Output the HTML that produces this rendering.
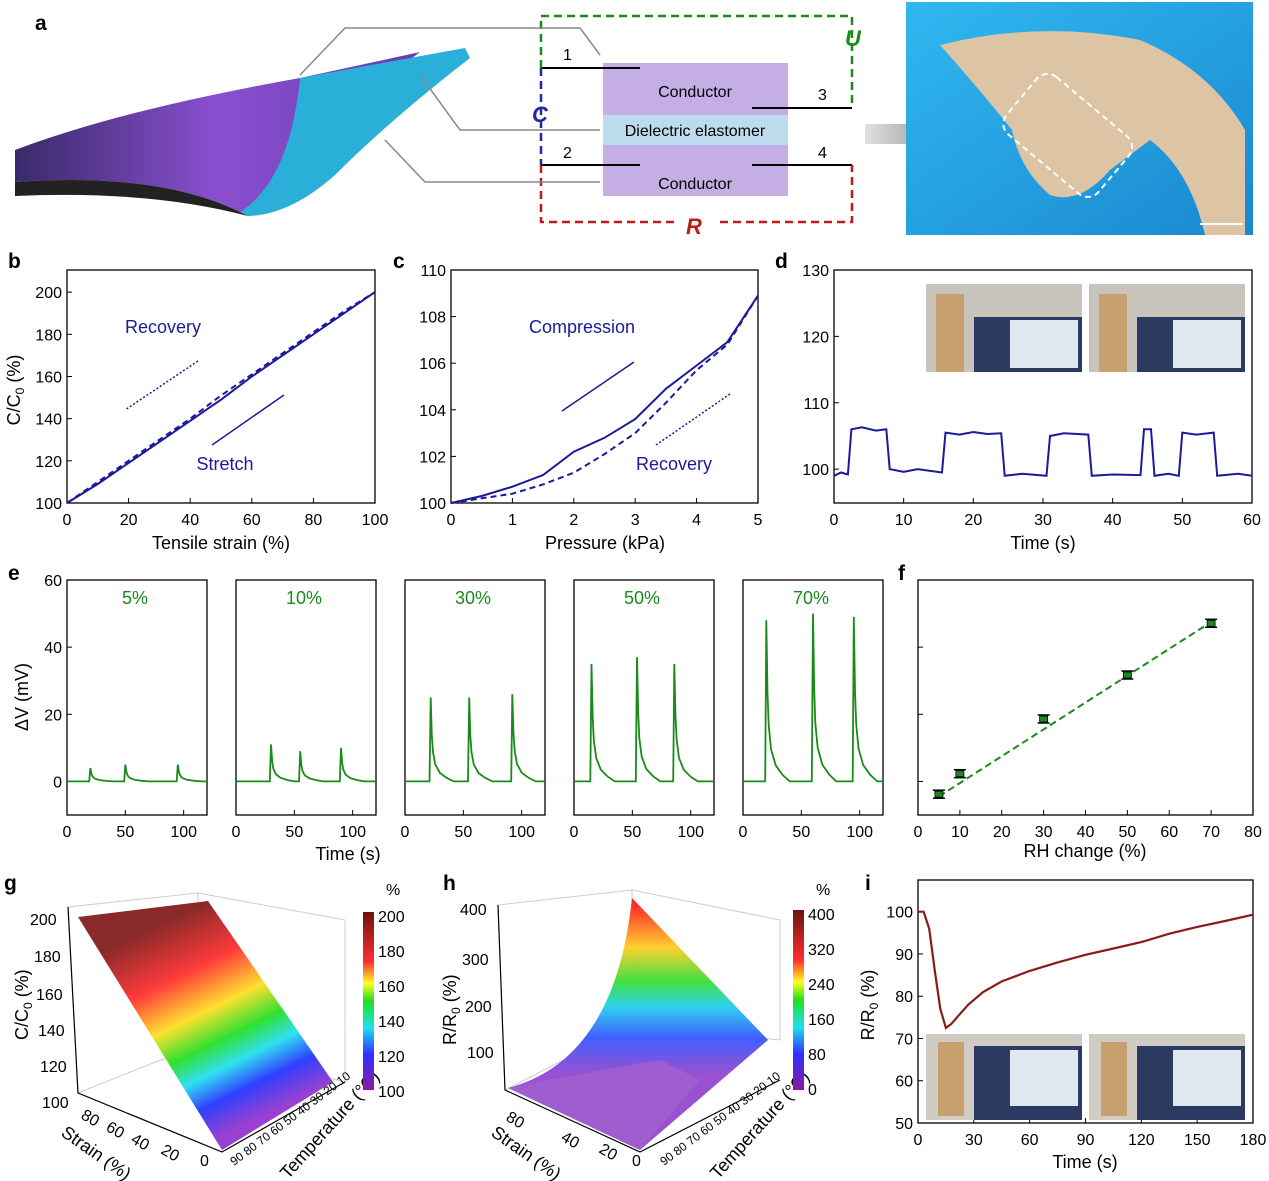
<!DOCTYPE html>
<html><head><meta charset="utf-8"><style>
body{margin:0;background:#fff}
svg{display:block;font-family:"Liberation Sans",sans-serif}
.t{font-size:16px;fill:#000}
.ti{font-size:18px;fill:#000}
.L{font-size:21px;font-weight:bold;fill:#000}
</style></head><body>
<svg id="s" width="1269" height="1181" viewBox="0 0 1269 1181">
<defs>
<linearGradient id="fab" x1="0" y1="0" x2="1" y2="0"><stop offset="0" stop-color="#3a2a6a"/><stop offset="0.5" stop-color="#8a4fd0"/><stop offset="1" stop-color="#6a3cb0"/></linearGradient>
<linearGradient id="gsurf" gradientUnits="userSpaceOnUse" x1="160" y1="925" x2="255" y2="1120"><stop offset="0" stop-color="#8b2a2a"/><stop offset="0.25" stop-color="#ff3a3a"/><stop offset="0.45" stop-color="#ffe030"/><stop offset="0.6" stop-color="#30e030"/><stop offset="0.72" stop-color="#30e0f0"/><stop offset="0.85" stop-color="#3040ff"/><stop offset="1" stop-color="#9a40d0"/></linearGradient>
<linearGradient id="hsurf" gradientUnits="userSpaceOnUse" x1="640" y1="905" x2="640" y2="1075"><stop offset="0" stop-color="#ff2a2a"/><stop offset="0.25" stop-color="#ffd030"/><stop offset="0.45" stop-color="#40e040"/><stop offset="0.6" stop-color="#30d0f0"/><stop offset="0.78" stop-color="#4060ff"/><stop offset="1" stop-color="#9a50d0"/></linearGradient>
<linearGradient id="cbar" x1="0" y1="1" x2="0" y2="0"><stop offset="0" stop-color="#8a1aa0"/><stop offset="0.2" stop-color="#3030ff"/><stop offset="0.35" stop-color="#20e0f0"/><stop offset="0.5" stop-color="#20e020"/><stop offset="0.6" stop-color="#ffff20"/><stop offset="0.72" stop-color="#ff3030"/><stop offset="1" stop-color="#701010"/></linearGradient>
<linearGradient id="arr" x1="0" y1="0" x2="1" y2="0"><stop offset="0" stop-color="#e0e0e0"/><stop offset="1" stop-color="#707070"/></linearGradient>
<linearGradient id="bg" x1="0" y1="0" x2="1" y2="1"><stop offset="0" stop-color="#30b8f0"/><stop offset="1" stop-color="#1a88d0"/></linearGradient>
</defs>

<!-- Panel a -->
<text class="L" x="35" y="30">a</text>
<g>
<path d="M15,150 Q120,110 300,78 L420,52 Q330,120 300,180 Q280,212 240,212 Q160,172 15,182Z" fill="url(#fab)"/>
<path d="M300,78 L465,48 L470,58 Q390,120 335,175 Q290,215 248,216 L240,212 Q290,180 300,78Z" fill="#2ab0d8"/>
<path d="M15,182 Q160,172 240,212 L248,216 Q150,190 15,196Z" fill="#222"/>
</g>
<g>
<rect x="603" y="63" width="185" height="52" fill="#c4aee4"/>
<rect x="603" y="115" width="185" height="30" fill="#bcdcee"/>
<rect x="603" y="145" width="185" height="51" fill="#c4aee4"/>
<text class="t" x="695" y="97" text-anchor="middle">Conductor</text>
<text class="t" x="695" y="136" text-anchor="middle">Dielectric elastomer</text>
<text class="t" x="695" y="189" text-anchor="middle">Conductor</text>
<g stroke="#000" stroke-width="2"><line x1="541" y1="68" x2="640" y2="68"/><line x1="752" y1="108" x2="852" y2="108"/><line x1="541" y1="165" x2="640" y2="165"/><line x1="752" y1="165" x2="852" y2="165"/></g>
<text class="t" x="563" y="60">1</text><text class="t" x="818" y="100">3</text><text class="t" x="563" y="158">2</text><text class="t" x="818" y="158">4</text>
<path d="M541,68 V16 H852 V108" fill="none" stroke="#1a8a1a" stroke-width="2.5" stroke-dasharray="8,5"/>
<path d="M541,68 V165" fill="none" stroke="#1a2aa0" stroke-width="2.5" stroke-dasharray="8,5"/>
<path d="M541,165 V222 H675 M720,222 H852 V165" fill="none" stroke="#c01a1a" stroke-width="2.5" stroke-dasharray="8,5"/>
<text x="845" y="46" font-size="22" font-weight="bold" font-style="italic" fill="#1a8a1a">U</text>
<text x="532" y="122" font-size="22" font-weight="bold" font-style="italic" fill="#1a2aa0">C</text>
<text x="686" y="234" font-size="22" font-weight="bold" font-style="italic" fill="#c01a1a">R</text>
<g stroke="#888" stroke-width="1.5" fill="none"><path d="M300,75 L345,28 H580 L600,55"/><path d="M420,75 L460,130 H600"/><path d="M385,140 L425,182 H600"/></g>
<path d="M865,124 H940 V112 L980,134 L940,156 V144 H865Z" fill="url(#arr)"/>
</g>
<g>
<rect x="906" y="2" width="347" height="233" fill="url(#bg)"/>
<path d="M940,45 Q1040,20 1140,40 Q1210,70 1245,130 L1245,235 L1205,235 Q1190,170 1150,140 L1110,170 Q1080,205 1050,195 Q1020,170 1012,130 Q980,90 940,45Z" fill="#dcc4a4"/>
<rect x="1008" y="98" width="120" height="75" rx="14" transform="rotate(40 1068 135)" fill="none" stroke="#fff" stroke-width="2" stroke-dasharray="6,4"/>
<line x1="1200" y1="224" x2="1243" y2="224" stroke="#fff" stroke-width="2"/>
</g>

<g id="charts"></g>

<!-- Panel g 3D -->
<text class="L" x="4" y="890">g</text>
<g stroke="#ccc" stroke-width="1" fill="none">
<path d="M68,907 L198,893 L198,1045 L78,1093Z M198,893 L345,920 L345,1082 L198,1045Z"/>
<path d="M78,1093 L222,1152 L345,1082"/>
</g>
<polygon points="78,917 208,901 333,1082 222,1150" fill="url(#gsurf)"/>
<g stroke="#000" stroke-width="1.2" fill="none"><path d="M68,907 L78,1093 L222,1152 L345,1082"/></g>
<g class="t" font-size="15">
<text x="30" y="925">200</text><text x="34" y="962">180</text><text x="36" y="1000">160</text><text x="38" y="1036">140</text><text x="40" y="1072">120</text><text x="42" y="1108">100</text>
<text x="80" y="1118" transform="rotate(30 80 1118)">80</text><text x="105" y="1130" transform="rotate(30 105 1130)">60</text><text x="130" y="1142" transform="rotate(30 130 1142)">40</text><text x="160" y="1153" transform="rotate(30 160 1153)">20</text><text x="200" y="1166">0</text>
</g>
<text x="234" y="1166" font-size="12" transform="rotate(-37 234 1166)">90 80 70 60 50 40 30 20 10</text>
<text class="ti" x="28" y="1040" transform="rotate(-90 28 1040)">C/C<tspan font-size="12" dy="4">0</tspan><tspan dy="-4"> (%)</tspan></text>
<text class="ti" x="60" y="1135" transform="rotate(35 60 1135)">Strain (%)</text>
<text class="ti" x="288" y="1180" transform="rotate(-48 288 1180)">Temperature (°C)</text>
<rect x="363" y="912" width="11" height="178" fill="url(#cbar)"/>
<g class="t" font-size="15"><text x="386" y="895">%</text><text x="378" y="922">200</text><text x="378" y="957">180</text><text x="378" y="992">160</text><text x="378" y="1027">140</text><text x="378" y="1062">120</text><text x="378" y="1097">100</text></g>

<!-- Panel h 3D -->
<text class="L" x="443" y="890">h</text>
<g stroke="#ccc" stroke-width="1" fill="none">
<path d="M498,905 L632,890 L632,1025 L505,1090Z M632,890 L780,920 L780,1040 L632,1025Z"/>
</g>
<path d="M508,1088 Q615,1060 632,898 L768,1040 L640,1150 Z" fill="url(#hsurf)"/>
<path d="M508,1088 Q600,1070 660,1060 L700,1080 L640,1150 Z" fill="#a060d0" opacity="0.85"/>
<g stroke="#000" stroke-width="1.2" fill="none"><path d="M498,905 L505,1090 L640,1152 L780,1080"/></g>
<g class="t" font-size="15"><text x="460" y="915">400</text><text x="462" y="965">300</text><text x="465" y="1012">200</text><text x="467" y="1058">100</text>
<text x="505" y="1120" transform="rotate(30 505 1120)">80</text><text x="560" y="1140" transform="rotate(30 560 1140)">40</text><text x="598" y="1152" transform="rotate(30 598 1152)">20</text><text x="632" y="1166">0</text></g>
<text x="664" y="1166" font-size="12" transform="rotate(-37 664 1166)">90 80 70 60 50 40 30 20 10</text>
<text class="ti" x="456" y="1045" transform="rotate(-90 456 1045)">R/R<tspan font-size="12" dy="4">0</tspan><tspan dy="-4"> (%)</tspan></text>
<text class="ti" x="490" y="1135" transform="rotate(35 490 1135)">Strain (%)</text>
<text class="ti" x="718" y="1180" transform="rotate(-48 718 1180)">Temperature (°C)</text>
<rect x="793" y="910" width="11" height="180" fill="url(#cbar)"/>
<g class="t" font-size="15"><text x="816" y="895">%</text><text x="808" y="920">400</text><text x="808" y="955">320</text><text x="808" y="990">240</text><text x="808" y="1025">160</text><text x="808" y="1060">80</text><text x="808" y="1095">0</text></g>
</svg>
<script>
// ---------- data ----------
const bStrain=[0,10,20,30,40,50,60,70,80,90,100];
const bStretch=[100,109,119,129,139,149,160,170,180,190,200];
const bRecovery=[100,110,120,130,140,151,161,171,181,191,200];
const cPressure=[0,0.5,1,1.5,2,2.5,3,3.5,4,4.5,5];
const cCompression=[100,100.3,100.7,101.2,102.2,102.8,103.6,104.9,105.9,106.9,108.9];
const cRecovery=[100,100.2,100.4,100.8,101.3,102.1,103.0,104.3,105.7,106.8,108.9];
const dTime=[0,1,2,2.5,4,6,7.5,8,10,12,15.5,16,18,20,22,24,24.5,27,30.5,31,33,36.5,37,40,44,44.5,45.5,46,48,49.5,50,52,54.5,55,58,60];
const dCap=[99,99.5,99.2,106,106.3,105.8,106,100,99.6,100,99.5,105.5,105.2,105.6,105.3,105.4,99,99.3,99,105,105.4,105.2,99,99.2,99.1,106,106,99,99.3,99,105.5,105.2,105.5,99,99.3,99];
const eLabels=['5%','10%','30%','50%','70%'];
const ePeakTimes=[[20,50,95],[30,55,90],[22,55,92],[15,54,86],[20,60,95]];
const ePeakHeights=[[4,5,5],[11,9,10],[25,25,26],[35,37,35],[48,50,49]];
const eShapeDt=[-1,0,1,2,4,8,14,20];
const eShapeFrac=[0,1,0.55,0.35,0.2,0.1,0.04,0];
const fRH=[5,10,30,50,70];
const fV=[-3.8,2.3,18.6,31.7,47.1];
const fFitX=[5,70];
const fFitY=[-4.5,47.5];
const iTime=[0,3,6,9,12,15,18,22,27,35,45,60,75,90,105,120,135,150,165,180];
const iR=[100,100,96,86,77,72.5,73.5,75.5,78,81,83.5,86,88,89.8,91.3,92.8,94.8,96.4,97.8,99.3];

const NS='http://www.w3.org/2000/svg';
const root=document.getElementById('charts');
function mk(tag,at,parent){const e=document.createElementNS(NS,tag);for(const k in at)e.setAttribute(k,at[k]);(parent||root).appendChild(e);return e;}
function txt(s,x,y,cls,anchor,parent){const e=mk('text',{x:x,y:y,'class':cls,'text-anchor':anchor||'middle'},parent);e.textContent=s;return e;}
function axes(x0,x1,y0,y1,xd,yd){return {X:v=>x0+(v-xd[0])/(xd[1]-xd[0])*(x1-x0),Y:v=>y1-(v-yd[0])/(yd[1]-yd[0])*(y1-y0)};}
function frame(x0,x1,y0,y1,name){const r=mk('rect',{x:x0,y:y0,width:x1-x0,height:y1-y0,fill:'none',stroke:'#000','stroke-width':1.3});}
function xt(a,vals,y1,show){vals.forEach(v=>{mk('line',{x1:a.X(v),x2:a.X(v),y1:y1,y2:y1-5,stroke:'#000'});if(show)txt(String(v),a.X(v),y1+22,'t');});}
function yt(a,vals,x0,show){vals.forEach(v=>{mk('line',{x1:x0,x2:x0+5,y1:a.Y(v),y2:a.Y(v),stroke:'#000'});if(show)txt(String(v),x0-5,a.Y(v)+6,'t','end');});}
function line(a,xs,ys,col,dash,w,name){const p=mk('path',{d:xs.map((x,i)=>(i?'L':'M')+a.X(x).toFixed(1)+','+a.Y(ys[i]).toFixed(1)).join(''),fill:'none',stroke:col,'stroke-width':w||2,'stroke-dasharray':dash||'none'});return p;}
function ctxt(s,x,y,col){const e=txt(s,x,y,'ti');e.style.fill=col;return e;}
const blue='#1a1a9a',green='#1a8a1a';

// ---------- b ----------
txt('b',8,268,'L','start');
let a=axes(67,375,270,503,[0,100],[100,210.5]);frame(67,375,270,503,'plot-b');
xt(a,[0,20,40,60,80,100],503,true);yt(a,[100,120,140,160,180,200],67,true);
line(a,bStrain,bRecovery,blue,'6,4',2,'recovery-curve');line(a,bStrain,bStretch,blue,'',2,'stretch-curve');
txt('Tensile strain (%)',221,549,'ti');
let tt=txt('',20,390,'ti');tt.setAttribute('transform','rotate(-90 20 390)');tt.innerHTML='C/C<tspan font-size="12" dy="4">0</tspan><tspan dy="-4"> (%)</tspan>';
ctxt('Recovery',163,333,blue);ctxt('Stretch',225,470,blue);
mk('line',{x1:198,y1:361,x2:125,y2:410,stroke:blue,'stroke-width':1.5,'stroke-dasharray':'2,2'});
mk('line',{x1:212,y1:445,x2:284,y2:395,stroke:blue,'stroke-width':1.5});

// ---------- c ----------
txt('c',393,268,'L','start');
a=axes(451,758,270,503,[0,5],[100,110]);frame(451,758,270,503,'plot-c');
xt(a,[0,1,2,3,4,5],503,true);yt(a,[100,102,104,106,108,110],451,true);
line(a,cPressure,cRecovery,blue,'6,4',2,'recovery-curve-c');line(a,cPressure,cCompression,blue,'',2,'compression-curve');
txt('Pressure (kPa)',605,549,'ti');
ctxt('Compression',582,333,blue);ctxt('Recovery',674,470,blue);
mk('line',{x1:562,y1:411,x2:634,y2:362,stroke:blue,'stroke-width':1.5});
mk('line',{x1:730,y1:394,x2:656,y2:445,stroke:blue,'stroke-width':1.5,'stroke-dasharray':'2,2'});

// ---------- d ----------
txt('d',775,268,'L','start');
a=axes(834,1252,270,503,[0,60],[94.9,130]);frame(834,1252,270,503,'plot-d');
xt(a,[0,10,20,30,40,50,60],503,true);yt(a,[100,110,120,130],834,true);
line(a,dTime,dCap,blue,'',2,'capacitance-signal');
txt('Time (s)',1043,549,'ti');
[[926,284],[1089,284]].forEach((p,i)=>{const g=mk('g',{});
mk('rect',{x:p[0],y:p[1],width:156,height:88,fill:'#c8c4bc'},g);mk('rect',{x:p[0]+48,y:p[1]+33,width:108,height:55,fill:'#2a3a60'},g);mk('rect',{x:p[0]+84,y:p[1]+36,width:68,height:48,fill:'#dfe8f0'},g);mk('rect',{x:p[0]+10,y:p[1]+10,width:28,height:78,fill:'#c8a070'},g);});

// ---------- e ----------
txt('e',8,580,'L','start');
const eX0=[67,236,405,574,743];
eX0.forEach((x0,k)=>{const ae=axes(x0,x0+140,580,815,[0,120],[-10,60]);frame(x0,x0+140,580,815,'plot-e-'+(k+1));
xt(ae,[0,50,100],815,true);if(k==0)yt(ae,[0,20,40,60],x0,true);
ctxt(eLabels[k],x0+68,604,green);
const xs=[0],ys=[0];ePeakTimes[k].forEach((t,j)=>{eShapeDt.forEach((d,m)=>{xs.push(t+d);ys.push(ePeakHeights[k][j]*eShapeFrac[m]);});});xs.push(120);ys.push(0);
line(ae,xs,ys,green,'',1.8,'voltage-signal-'+eLabels[k]);});
txt('Time (s)',348,860,'ti');
tt=txt('ΔV (mV)',28,697,'ti');tt.setAttribute('transform','rotate(-90 28 697)');

// ---------- f ----------
txt('f',898,580,'L','start');
a=axes(918,1253,580,815,[0,80],[-10,60]);frame(918,1253,580,815,'plot-f');
xt(a,[0,10,20,30,40,50,60,70,80],815,true);yt(a,[0,20,40],918,false);
line(a,fFitX,fFitY,green,'7,4',2,'linear-fit');
fRH.forEach((x,i)=>{const g=mk('g',{});
mk('line',{x1:a.X(x)-6,x2:a.X(x)+6,y1:a.Y(fV[i])-4,y2:a.Y(fV[i])-4,stroke:'#000','stroke-width':1.5},g);mk('line',{x1:a.X(x)-6,x2:a.X(x)+6,y1:a.Y(fV[i])+4,y2:a.Y(fV[i])+4,stroke:'#000','stroke-width':1.5},g);
mk('rect',{x:a.X(x)-4,y:a.Y(fV[i])-3,width:8,height:6,fill:green,stroke:'#000','stroke-width':0.8},g);});
txt('RH change (%)',1085,857,'ti');

// ---------- i ----------
txt('i',865,890,'L','start');
a=axes(918,1253,880,1123,[0,180],[50,107.5]);frame(918,1253,880,1123,'plot-i');
xt(a,[0,30,60,90,120,150,180],1123,true);yt(a,[50,60,70,80,90,100],918,true);
[[926,1034],[1089,1034]].forEach((p,i)=>{const g=mk('g',{});
mk('rect',{x:p[0],y:p[1],width:156,height:86,fill:'#d0ccc4'},g);mk('rect',{x:p[0]+48,y:p[1]+12,width:108,height:74,fill:'#2a3a60'},g);mk('rect',{x:p[0]+84,y:p[1]+16,width:68,height:56,fill:'#dfe8f0'},g);mk('rect',{x:p[0]+12,y:p[1]+8,width:26,height:74,fill:'#c8a070'},g);});
line(a,iTime,iR,'#8b1a1a','',2.2,'resistance-recovery-curve');
txt('Time (s)',1085,1168,'ti');
tt=txt('',874,1005,'ti');tt.setAttribute('transform','rotate(-90 874 1005)');tt.innerHTML='R/R<tspan font-size="12" dy="4">0</tspan><tspan dy="-4"> (%)</tspan>';
</script>
</body></html>
